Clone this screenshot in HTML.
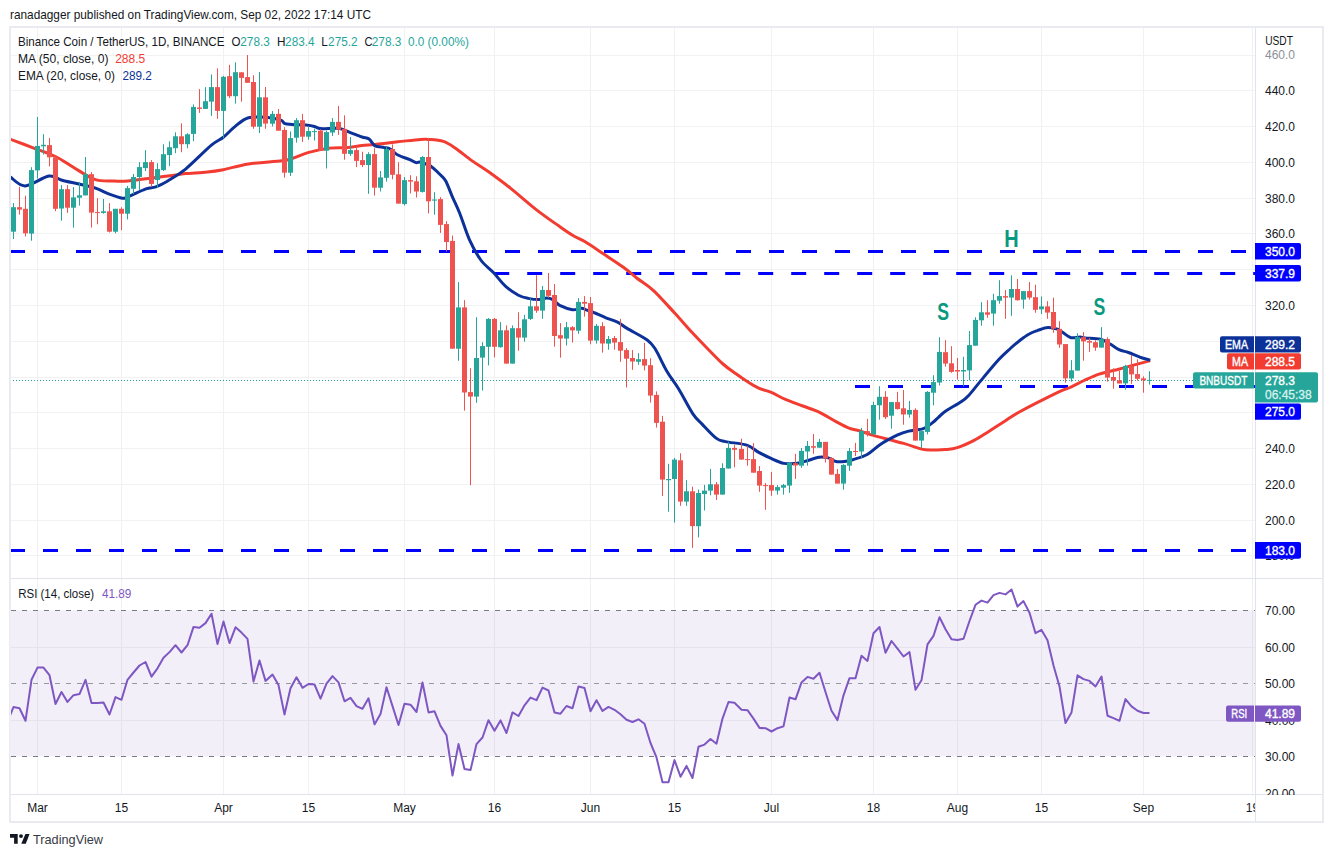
<!DOCTYPE html><html><head><meta charset="utf-8"><style>html,body{margin:0;padding:0;background:#fff;}body{width:1333px;height:857px;position:relative;overflow:hidden;}</style></head><body><svg width="1333" height="857" viewBox="0 0 1333 857" style="position:absolute;left:0;top:0">
<defs><clipPath id="cp"><rect x="11" y="28" width="1244" height="550"/></clipPath><clipPath id="cr"><rect x="11" y="579" width="1244" height="215"/></clipPath></defs>
<rect x="10" y="27" width="1313" height="795" fill="#fff" stroke="#e9ebf0" stroke-width="2"/>
<rect x="10" y="610.3" width="1245" height="146.1" fill="#f2eff9"/>
<line x1="37.5" y1="28" x2="37.5" y2="794" stroke="#2a2e39" stroke-opacity="0.065" stroke-width="1"/>
<line x1="121.5" y1="28" x2="121.5" y2="794" stroke="#2a2e39" stroke-opacity="0.065" stroke-width="1"/>
<line x1="223.5" y1="28" x2="223.5" y2="794" stroke="#2a2e39" stroke-opacity="0.065" stroke-width="1"/>
<line x1="308.5" y1="28" x2="308.5" y2="794" stroke="#2a2e39" stroke-opacity="0.065" stroke-width="1"/>
<line x1="404.5" y1="28" x2="404.5" y2="794" stroke="#2a2e39" stroke-opacity="0.065" stroke-width="1"/>
<line x1="494.5" y1="28" x2="494.5" y2="794" stroke="#2a2e39" stroke-opacity="0.065" stroke-width="1"/>
<line x1="590.5" y1="28" x2="590.5" y2="794" stroke="#2a2e39" stroke-opacity="0.065" stroke-width="1"/>
<line x1="674.5" y1="28" x2="674.5" y2="794" stroke="#2a2e39" stroke-opacity="0.065" stroke-width="1"/>
<line x1="771.5" y1="28" x2="771.5" y2="794" stroke="#2a2e39" stroke-opacity="0.065" stroke-width="1"/>
<line x1="873.5" y1="28" x2="873.5" y2="794" stroke="#2a2e39" stroke-opacity="0.065" stroke-width="1"/>
<line x1="957.5" y1="28" x2="957.5" y2="794" stroke="#2a2e39" stroke-opacity="0.065" stroke-width="1"/>
<line x1="1041.5" y1="28" x2="1041.5" y2="794" stroke="#2a2e39" stroke-opacity="0.065" stroke-width="1"/>
<line x1="1143.5" y1="28" x2="1143.5" y2="794" stroke="#2a2e39" stroke-opacity="0.065" stroke-width="1"/>
<line x1="1252.5" y1="28" x2="1252.5" y2="794" stroke="#2a2e39" stroke-opacity="0.065" stroke-width="1"/>
<line x1="11" y1="555.5" x2="1255" y2="555.5" stroke="#f0f2f3" stroke-width="1"/>
<line x1="11" y1="520.5" x2="1255" y2="520.5" stroke="#f0f2f3" stroke-width="1"/>
<line x1="11" y1="484.5" x2="1255" y2="484.5" stroke="#f0f2f3" stroke-width="1"/>
<line x1="11" y1="448.5" x2="1255" y2="448.5" stroke="#f0f2f3" stroke-width="1"/>
<line x1="11" y1="412.5" x2="1255" y2="412.5" stroke="#f0f2f3" stroke-width="1"/>
<line x1="11" y1="377.5" x2="1255" y2="377.5" stroke="#f0f2f3" stroke-width="1"/>
<line x1="11" y1="341.5" x2="1255" y2="341.5" stroke="#f0f2f3" stroke-width="1"/>
<line x1="11" y1="305.5" x2="1255" y2="305.5" stroke="#f0f2f3" stroke-width="1"/>
<line x1="11" y1="269.5" x2="1255" y2="269.5" stroke="#f0f2f3" stroke-width="1"/>
<line x1="11" y1="233.5" x2="1255" y2="233.5" stroke="#f0f2f3" stroke-width="1"/>
<line x1="11" y1="198.5" x2="1255" y2="198.5" stroke="#f0f2f3" stroke-width="1"/>
<line x1="11" y1="162.5" x2="1255" y2="162.5" stroke="#f0f2f3" stroke-width="1"/>
<line x1="11" y1="126.5" x2="1255" y2="126.5" stroke="#f0f2f3" stroke-width="1"/>
<line x1="11" y1="90.5" x2="1255" y2="90.5" stroke="#f0f2f3" stroke-width="1"/>
<line x1="11" y1="55.5" x2="1255" y2="55.5" stroke="#f0f2f3" stroke-width="1"/>
<line x1="11" y1="647.5" x2="1255" y2="647.5" stroke="#e6e3ef" stroke-width="1"/>
<line x1="11" y1="720.5" x2="1255" y2="720.5" stroke="#e6e3ef" stroke-width="1"/>
<line x1="11" y1="610.5" x2="1255" y2="610.5" stroke="#787b86" stroke-width="1" stroke-dasharray="5 6"/>
<line x1="11" y1="683.5" x2="1255" y2="683.5" stroke="#9598a1" stroke-width="1" stroke-dasharray="5 6"/>
<line x1="11" y1="756.5" x2="1255" y2="756.5" stroke="#787b86" stroke-width="1" stroke-dasharray="5 6"/>
<line x1="1255.5" y1="28" x2="1255.5" y2="821" stroke="#e0e3eb" stroke-width="1"/>
<line x1="11" y1="578.5" x2="1322" y2="578.5" stroke="#e0e3eb" stroke-width="1"/>
<line x1="11" y1="794.5" x2="1322" y2="794.5" stroke="#e0e3eb" stroke-width="1"/>
<g clip-path="url(#cp)">
<line x1="10" y1="380.5" x2="1193" y2="380.5" stroke="#26a69a" stroke-width="1" stroke-dasharray="1 2"/>
<line x1="10" y1="251.5" x2="1254" y2="251.5" stroke="#0000ff" stroke-width="3" stroke-dasharray="15 18"/>
<line x1="494.2" y1="273.5" x2="1255" y2="273.5" stroke="#0000ff" stroke-width="3" stroke-dasharray="15 18"/>
<line x1="855" y1="386.5" x2="1255" y2="386.5" stroke="#0000ff" stroke-width="3" stroke-dasharray="15 18"/>
<line x1="10" y1="550.5" x2="1254" y2="550.5" stroke="#0000ff" stroke-width="3" stroke-dasharray="15 18"/>
<path d="M10.2,139.2 C13.9,140.6 25.0,144.7 32.5,147.6 C40.0,150.5 48.6,153.3 55.4,156.5 C62.2,159.8 66.8,163.4 73.3,167.2 C79.9,171.0 87.8,177.1 94.6,179.4 C101.4,181.7 108.6,180.8 114.2,181.0 C119.7,181.3 119.1,181.8 128.0,181.0 C136.9,180.1 158.1,177.2 167.7,176.0 C177.3,174.8 178.9,174.3 185.6,173.6 C192.2,173.0 201.1,172.7 207.4,172.0 C213.7,171.4 216.4,171.0 223.3,169.7 C230.1,168.3 238.7,165.4 248.5,163.9 C258.4,162.4 274.7,161.8 282.2,160.8 C289.7,159.9 289.0,159.4 293.4,158.0 C297.9,156.6 303.0,154.1 308.8,152.4 C314.7,150.8 321.9,149.1 328.5,148.2 C335.0,147.4 342.5,148.0 348.1,147.5 C353.7,147.1 357.6,146.0 362.1,145.4 C366.6,144.9 369.1,145.0 375.0,144.4 C380.9,143.8 390.2,142.7 397.8,141.8 C405.4,141.0 415.5,139.8 420.5,139.4 C425.6,139.0 424.3,139.1 428.1,139.4 C431.9,139.7 438.7,139.9 443.3,141.4 C447.8,142.8 450.7,145.0 455.4,148.2 C460.2,151.4 466.3,156.7 471.8,160.6 C477.3,164.5 482.1,167.1 488.6,171.8 C495.1,176.5 503.1,182.3 511.0,188.6 C518.9,194.9 528.3,203.4 536.2,209.6 C544.1,215.8 552.5,221.5 558.6,225.8 C564.6,230.1 568.1,232.7 572.6,235.3 C577.0,238.0 580.0,238.7 585.2,241.8 C590.3,244.9 597.1,249.6 603.4,253.8 C609.7,258.0 617.4,262.9 623.0,267.0 C628.6,271.0 631.8,274.2 637.0,278.2 C642.1,282.1 647.4,284.9 653.8,290.8 C660.1,296.7 668.7,306.6 675.1,313.5 C681.4,320.4 686.7,326.7 691.9,332.3 C697.1,337.9 701.0,342.0 706.2,347.2 C711.4,352.5 718.1,359.7 723.0,364.0 C727.9,368.4 731.7,370.7 735.6,373.5 C739.4,376.3 742.2,378.4 746.1,380.8 C749.9,383.3 754.5,386.3 758.7,388.2 C762.9,390.1 766.7,390.5 771.3,392.4 C775.8,394.3 780.7,397.5 786.0,399.7 C791.2,402.0 797.2,403.9 802.8,406.0 C808.4,408.1 814.0,409.7 819.6,412.3 C825.2,415.0 831.5,419.2 836.4,421.8 C841.3,424.4 845.2,426.6 849.0,428.1 C852.8,429.6 855.5,429.6 859.2,430.7 C862.9,431.9 863.9,432.8 871.3,434.9 C878.7,437.0 895.3,441.0 903.6,443.4 C912.0,445.8 916.7,448.0 921.6,449.1 C926.5,450.2 929.1,449.9 933.1,449.9 C937.0,450.0 941.3,450.0 945.4,449.6 C949.4,449.3 952.5,449.3 957.3,447.7 C962.1,446.2 968.9,443.1 974.1,440.4 C979.4,437.7 983.9,434.5 988.8,431.5 C993.7,428.4 998.4,425.2 1003.5,422.0 C1008.6,418.8 1010.1,417.0 1019.3,412.0 C1028.4,407.1 1049.9,396.3 1058.3,392.2 C1066.8,388.1 1065.7,389.5 1070.0,387.5 C1074.3,385.6 1079.2,382.8 1084.0,380.5 C1088.9,378.3 1093.7,375.9 1099.2,374.1 C1104.6,372.3 1111.4,371.1 1116.7,369.8 C1121.9,368.4 1125.1,367.5 1130.7,365.9 C1136.3,364.4 1147.0,361.5 1150.3,360.6" fill="none" stroke="#f23c31" stroke-width="3" stroke-linejoin="round"/>
<path d="M10.4,177.0 C12.9,178.5 18.8,186.1 25.1,185.9 C31.5,185.8 42.7,177.1 48.8,176.1 C55.0,175.2 56.7,178.9 61.9,180.2 C67.1,181.6 74.1,182.9 79.9,184.3 C85.6,185.7 91.3,186.8 96.2,188.4 C101.1,190.0 104.9,192.5 109.3,194.1 C113.6,195.7 119.2,197.7 122.3,198.2 C125.4,198.6 124.1,198.4 128.0,196.8 C131.9,195.3 141.2,190.6 145.9,188.9 C150.5,187.3 152.1,188.2 155.8,186.9 C159.4,185.6 162.7,183.9 167.7,181.0 C172.7,178.0 178.3,175.0 185.6,169.1 C192.8,163.1 205.1,150.5 211.4,145.2 C217.7,139.9 219.3,140.4 223.3,137.3 C227.2,134.2 231.0,129.6 235.2,126.4 C239.4,123.1 243.0,119.2 248.5,117.7 C254.1,116.2 262.8,117.0 268.2,117.4 C273.6,117.8 278.0,119.2 280.8,120.2 C283.6,121.3 283.2,123.0 285.0,123.7 C286.9,124.4 288.5,124.2 292.0,124.4 C295.5,124.7 302.3,124.8 306.0,125.1 C309.8,125.5 312.1,125.9 314.4,126.5 C316.8,127.1 317.7,128.3 320.0,128.6 C322.4,129.0 325.2,128.6 328.5,128.6 C331.7,128.6 335.9,127.9 339.7,128.6 C343.4,129.3 347.1,131.4 350.9,132.8 C354.6,134.2 359.0,136.0 362.1,137.0 C365.1,138.1 366.9,137.6 369.1,139.1 C371.2,140.6 372.5,144.5 375.0,145.9 C377.5,147.3 381.6,146.9 384.1,147.5 C386.6,148.0 387.9,147.7 390.2,149.0 C392.5,150.2 394.5,153.3 397.8,155.0 C401.1,156.8 406.9,158.3 409.9,159.6 C412.9,160.9 414.2,162.2 416.0,162.6 C417.7,163.1 418.0,161.5 420.5,162.2 C423.1,162.8 428.1,164.6 431.2,166.4 C434.2,168.3 436.3,170.9 438.7,173.3 C441.1,175.7 443.3,176.9 445.6,180.8 C447.8,184.8 450.0,191.3 452.4,196.8 C454.8,202.3 457.0,206.6 459.9,213.7 C462.7,220.8 465.9,231.9 469.4,239.6 C472.9,247.3 476.8,254.4 480.8,260.0 C484.9,265.6 489.8,268.7 493.9,273.1 C498.0,277.5 501.3,282.5 505.4,286.2 C509.4,289.9 514.6,293.1 518.4,295.2 C522.2,297.2 524.8,297.7 528.2,298.4 C531.7,299.2 536.0,299.6 539.1,299.6 C542.2,299.5 544.4,298.1 546.7,298.1 C549.0,298.1 550.5,298.3 552.8,299.6 C555.0,300.9 557.1,304.0 560.3,305.7 C563.6,307.3 568.9,309.3 572.5,309.8 C576.0,310.2 579.3,308.2 581.6,308.2 C583.9,308.2 584.1,309.0 586.1,309.8 C588.2,310.5 590.4,311.1 593.7,312.5 C597.0,313.8 601.8,316.1 605.9,317.8 C609.9,319.4 614.5,320.6 618.0,322.3 C621.5,324.1 622.2,325.5 627.1,328.4 C632.0,331.4 642.5,336.5 647.2,340.0 C651.9,343.5 652.0,344.1 655.4,349.3 C658.7,354.6 663.1,364.9 667.0,371.5 C670.9,378.1 674.4,382.0 678.7,389.0 C683.0,396.0 688.8,407.7 692.7,413.6 C696.6,419.4 698.2,420.0 702.1,424.1 C706.0,428.2 712.2,435.2 716.1,438.1 C720.0,441.0 720.3,440.4 725.4,441.6 C730.5,442.8 741.2,443.3 746.7,445.1 C752.2,446.8 754.4,449.9 758.3,452.1 C762.2,454.2 765.7,456.0 770.0,457.9 C774.3,459.8 779.7,462.5 784.0,463.4 C788.3,464.3 792.2,463.7 795.7,463.4 C799.2,463.1 801.1,462.4 805.0,461.4 C808.9,460.4 815.1,457.9 819.0,457.3 C822.9,456.7 825.5,457.2 828.3,457.9 C831.1,458.6 833.2,460.9 835.9,461.5 C838.5,462.1 841.5,461.8 844.3,461.5 C847.1,461.2 848.8,460.8 852.7,459.7 C856.5,458.5 862.6,457.0 867.2,454.5 C871.8,452.0 875.3,447.7 880.3,444.5 C885.2,441.3 892.4,437.5 897.1,435.2 C901.8,433.0 904.2,432.2 908.6,431.1 C912.9,430.1 919.2,430.2 923.3,428.7 C927.4,427.2 930.5,424.1 933.1,422.2 C935.6,420.3 936.3,419.1 938.4,417.3 C940.5,415.4 941.9,413.6 945.8,411.0 C949.6,408.4 957.7,404.2 961.5,401.5 C965.4,398.9 965.7,398.6 968.9,395.2 C972.0,391.8 975.5,387.0 980.5,381.1 C985.5,375.1 993.8,365.1 998.8,359.6 C1003.7,354.2 1006.7,351.8 1010.3,348.5 C1013.9,345.2 1017.2,342.5 1020.4,340.0 C1023.5,337.6 1026.3,335.5 1029.2,334.0 C1032.0,332.4 1034.5,331.6 1037.3,330.6 C1040.1,329.5 1043.6,328.1 1046.0,327.7 C1048.5,327.2 1050.2,327.6 1052.1,327.9 C1054.0,328.2 1055.7,328.5 1057.5,329.2 C1059.3,330.0 1060.7,331.2 1062.9,332.6 C1065.2,334.0 1068.2,337.0 1071.0,337.7 C1073.9,338.4 1077.6,337.0 1080.0,337.0 C1082.4,337.0 1081.8,337.6 1085.2,337.9 C1088.6,338.3 1096.3,338.1 1100.4,339.1 C1104.4,340.1 1106.6,342.0 1109.7,343.8 C1112.8,345.5 1115.9,348.1 1119.0,349.6 C1122.1,351.1 1124.9,351.3 1128.4,352.5 C1131.9,353.8 1136.4,355.9 1140.0,357.2 C1143.7,358.4 1148.6,359.6 1150.3,360.1" fill="none" stroke="#0c3299" stroke-width="3" stroke-linejoin="round"/>
<rect x="13" y="203.1" width="1" height="35.9" fill="#26a69a"/>
<rect x="11" y="207.2" width="5" height="24.5" fill="#26a69a"/>
<rect x="19" y="186.8" width="1" height="27.8" fill="#ef5350"/>
<rect x="17" y="207.2" width="5" height="2.4" fill="#ef5350"/>
<rect x="25" y="195.7" width="1" height="40.8" fill="#ef5350"/>
<rect x="23" y="208.8" width="5" height="24.5" fill="#ef5350"/>
<rect x="31" y="167.2" width="1" height="73.5" fill="#26a69a"/>
<rect x="29" y="170.1" width="5" height="63.5" fill="#26a69a"/>
<rect x="37" y="116.9" width="1" height="61.7" fill="#26a69a"/>
<rect x="35" y="145.9" width="5" height="24.5" fill="#26a69a"/>
<rect x="43" y="134.2" width="1" height="20.3" fill="#26a69a"/>
<rect x="41" y="144.8" width="5" height="1.5" fill="#26a69a"/>
<rect x="49" y="138.1" width="1" height="28.3" fill="#ef5350"/>
<rect x="47" y="145.1" width="5" height="12.2" fill="#ef5350"/>
<rect x="55" y="155.7" width="1" height="55.5" fill="#ef5350"/>
<rect x="53" y="157.4" width="5" height="51.4" fill="#ef5350"/>
<rect x="61" y="185.1" width="1" height="35.6" fill="#26a69a"/>
<rect x="59" y="189.2" width="5" height="19.3" fill="#26a69a"/>
<rect x="67" y="185.1" width="1" height="27.8" fill="#ef5350"/>
<rect x="65" y="189.2" width="5" height="18.5" fill="#ef5350"/>
<rect x="73" y="187.1" width="1" height="40.5" fill="#26a69a"/>
<rect x="71" y="197.4" width="5" height="10.3" fill="#26a69a"/>
<rect x="79" y="181.9" width="1" height="23.7" fill="#26a69a"/>
<rect x="77" y="195.3" width="5" height="2.4" fill="#26a69a"/>
<rect x="85" y="157.0" width="1" height="38.4" fill="#26a69a"/>
<rect x="83" y="174.2" width="5" height="21.2" fill="#26a69a"/>
<rect x="91" y="172.1" width="1" height="55.5" fill="#ef5350"/>
<rect x="89" y="174.2" width="5" height="38.4" fill="#ef5350"/>
<rect x="97" y="198.2" width="1" height="26.1" fill="#ef5350"/>
<rect x="95" y="212.1" width="5" height="1.0" fill="#ef5350"/>
<rect x="103" y="199.0" width="1" height="14.7" fill="#26a69a"/>
<rect x="101" y="211.3" width="5" height="1.6" fill="#26a69a"/>
<rect x="109" y="203.1" width="1" height="29.4" fill="#ef5350"/>
<rect x="107" y="211.3" width="5" height="20.4" fill="#ef5350"/>
<rect x="115" y="208.8" width="1" height="24.5" fill="#26a69a"/>
<rect x="113" y="208.8" width="5" height="22.9" fill="#26a69a"/>
<rect x="121" y="207.2" width="1" height="22.9" fill="#ef5350"/>
<rect x="119" y="208.8" width="5" height="4.9" fill="#ef5350"/>
<rect x="127" y="185.9" width="1" height="33.5" fill="#26a69a"/>
<rect x="125" y="188.1" width="5" height="25.6" fill="#26a69a"/>
<rect x="133" y="174.0" width="1" height="20.1" fill="#26a69a"/>
<rect x="131" y="177.0" width="5" height="11.8" fill="#26a69a"/>
<rect x="139" y="162.1" width="1" height="27.8" fill="#26a69a"/>
<rect x="137" y="167.1" width="5" height="9.9" fill="#26a69a"/>
<rect x="145" y="150.2" width="1" height="20.8" fill="#26a69a"/>
<rect x="143" y="162.1" width="5" height="6.0" fill="#26a69a"/>
<rect x="151" y="160.1" width="1" height="26.8" fill="#ef5350"/>
<rect x="149" y="162.1" width="5" height="21.8" fill="#ef5350"/>
<rect x="157" y="163.1" width="1" height="24.8" fill="#26a69a"/>
<rect x="155" y="169.1" width="5" height="10.9" fill="#26a69a"/>
<rect x="163" y="144.2" width="1" height="26.8" fill="#26a69a"/>
<rect x="161" y="154.2" width="5" height="15.9" fill="#26a69a"/>
<rect x="169" y="141.3" width="1" height="24.8" fill="#26a69a"/>
<rect x="167" y="147.2" width="5" height="7.9" fill="#26a69a"/>
<rect x="175" y="132.3" width="1" height="20.8" fill="#26a69a"/>
<rect x="173" y="136.3" width="5" height="11.9" fill="#26a69a"/>
<rect x="181" y="123.4" width="1" height="28.8" fill="#ef5350"/>
<rect x="179" y="136.3" width="5" height="7.9" fill="#ef5350"/>
<rect x="187" y="133.3" width="1" height="14.9" fill="#26a69a"/>
<rect x="185" y="134.3" width="5" height="9.9" fill="#26a69a"/>
<rect x="193" y="104.5" width="1" height="36.7" fill="#26a69a"/>
<rect x="191" y="106.9" width="5" height="27.0" fill="#26a69a"/>
<rect x="199" y="89.1" width="1" height="23.8" fill="#ef5350"/>
<rect x="197" y="107.5" width="5" height="1.4" fill="#ef5350"/>
<rect x="205" y="87.1" width="1" height="21.8" fill="#26a69a"/>
<rect x="203" y="101.2" width="5" height="7.7" fill="#26a69a"/>
<rect x="211" y="74.4" width="1" height="41.5" fill="#26a69a"/>
<rect x="209" y="87.1" width="5" height="14.5" fill="#26a69a"/>
<rect x="217" y="68.4" width="1" height="50.4" fill="#ef5350"/>
<rect x="215" y="87.1" width="5" height="23.8" fill="#ef5350"/>
<rect x="223" y="75.8" width="1" height="62.5" fill="#26a69a"/>
<rect x="221" y="76.8" width="5" height="34.1" fill="#26a69a"/>
<rect x="229" y="64.8" width="1" height="33.3" fill="#ef5350"/>
<rect x="227" y="76.2" width="5" height="20.0" fill="#ef5350"/>
<rect x="235" y="62.3" width="1" height="41.3" fill="#26a69a"/>
<rect x="233" y="72.2" width="5" height="24.0" fill="#26a69a"/>
<rect x="241" y="72.3" width="1" height="29.4" fill="#ef5350"/>
<rect x="239" y="72.3" width="5" height="5.6" fill="#ef5350"/>
<rect x="247" y="55.0" width="1" height="27.7" fill="#ef5350"/>
<rect x="245" y="77.1" width="5" height="5.7" fill="#ef5350"/>
<rect x="253" y="75.2" width="1" height="53.6" fill="#ef5350"/>
<rect x="251" y="82.0" width="5" height="44.7" fill="#ef5350"/>
<rect x="259" y="72.1" width="1" height="60.9" fill="#26a69a"/>
<rect x="257" y="97.3" width="5" height="29.4" fill="#26a69a"/>
<rect x="265" y="87.0" width="1" height="41.8" fill="#ef5350"/>
<rect x="263" y="97.3" width="5" height="26.3" fill="#ef5350"/>
<rect x="272" y="111.1" width="1" height="15.4" fill="#26a69a"/>
<rect x="270" y="113.9" width="5" height="9.8" fill="#26a69a"/>
<rect x="278" y="109.0" width="1" height="21.7" fill="#ef5350"/>
<rect x="276" y="113.9" width="5" height="16.8" fill="#ef5350"/>
<rect x="284" y="127.2" width="1" height="50.4" fill="#ef5350"/>
<rect x="282" y="130.0" width="5" height="42.7" fill="#ef5350"/>
<rect x="290" y="131.4" width="1" height="44.6" fill="#26a69a"/>
<rect x="288" y="138.1" width="5" height="34.6" fill="#26a69a"/>
<rect x="296" y="118.1" width="1" height="24.5" fill="#26a69a"/>
<rect x="294" y="120.2" width="5" height="17.5" fill="#26a69a"/>
<rect x="302" y="113.9" width="1" height="28.0" fill="#ef5350"/>
<rect x="300" y="120.2" width="5" height="16.5" fill="#ef5350"/>
<rect x="308" y="126.5" width="1" height="13.3" fill="#26a69a"/>
<rect x="306" y="131.1" width="5" height="5.6" fill="#26a69a"/>
<rect x="314" y="128.6" width="1" height="11.9" fill="#26a69a"/>
<rect x="312" y="131.1" width="5" height="1.0" fill="#26a69a"/>
<rect x="320" y="129.3" width="1" height="21.4" fill="#ef5350"/>
<rect x="318" y="130.7" width="5" height="20.0" fill="#ef5350"/>
<rect x="326" y="130.7" width="1" height="37.8" fill="#26a69a"/>
<rect x="324" y="132.1" width="5" height="18.6" fill="#26a69a"/>
<rect x="332" y="118.1" width="1" height="17.8" fill="#26a69a"/>
<rect x="330" y="121.9" width="5" height="10.6" fill="#26a69a"/>
<rect x="338" y="105.9" width="1" height="29.0" fill="#ef5350"/>
<rect x="336" y="121.9" width="5" height="7.8" fill="#ef5350"/>
<rect x="344" y="115.3" width="1" height="44.4" fill="#ef5350"/>
<rect x="342" y="128.9" width="5" height="24.9" fill="#ef5350"/>
<rect x="350" y="137.0" width="1" height="18.9" fill="#26a69a"/>
<rect x="348" y="150.1" width="5" height="3.8" fill="#26a69a"/>
<rect x="356" y="148.2" width="1" height="18.9" fill="#ef5350"/>
<rect x="354" y="150.1" width="5" height="10.8" fill="#ef5350"/>
<rect x="362" y="151.7" width="1" height="15.4" fill="#ef5350"/>
<rect x="360" y="160.1" width="5" height="4.9" fill="#ef5350"/>
<rect x="368" y="152.2" width="1" height="41.6" fill="#26a69a"/>
<rect x="366" y="154.1" width="5" height="10.9" fill="#26a69a"/>
<rect x="374" y="148.2" width="1" height="47.4" fill="#ef5350"/>
<rect x="372" y="154.1" width="5" height="33.6" fill="#ef5350"/>
<rect x="380" y="171.0" width="1" height="20.5" fill="#26a69a"/>
<rect x="378" y="177.4" width="5" height="10.3" fill="#26a69a"/>
<rect x="386" y="146.7" width="1" height="34.9" fill="#26a69a"/>
<rect x="384" y="149.0" width="5" height="28.8" fill="#26a69a"/>
<rect x="392" y="144.4" width="1" height="34.9" fill="#ef5350"/>
<rect x="390" y="149.0" width="5" height="25.8" fill="#ef5350"/>
<rect x="398" y="162.2" width="1" height="41.4" fill="#ef5350"/>
<rect x="396" y="174.3" width="5" height="29.3" fill="#ef5350"/>
<rect x="404" y="177.0" width="1" height="28.5" fill="#26a69a"/>
<rect x="402" y="180.1" width="5" height="24.0" fill="#26a69a"/>
<rect x="410" y="175.2" width="1" height="18.2" fill="#ef5350"/>
<rect x="408" y="180.1" width="5" height="1.5" fill="#ef5350"/>
<rect x="416" y="176.3" width="1" height="21.2" fill="#ef5350"/>
<rect x="414" y="181.3" width="5" height="10.2" fill="#ef5350"/>
<rect x="422" y="156.1" width="1" height="36.4" fill="#26a69a"/>
<rect x="420" y="157.0" width="5" height="34.9" fill="#26a69a"/>
<rect x="428" y="138.3" width="1" height="75.1" fill="#ef5350"/>
<rect x="426" y="157.0" width="5" height="44.3" fill="#ef5350"/>
<rect x="434" y="192.2" width="1" height="22.5" fill="#26a69a"/>
<rect x="432" y="199.5" width="5" height="1.1" fill="#26a69a"/>
<rect x="440" y="197.1" width="1" height="35.8" fill="#ef5350"/>
<rect x="438" y="199.1" width="5" height="25.8" fill="#ef5350"/>
<rect x="446" y="221.1" width="1" height="30.4" fill="#ef5350"/>
<rect x="444" y="224.1" width="5" height="17.9" fill="#ef5350"/>
<rect x="452" y="235.5" width="1" height="113.2" fill="#ef5350"/>
<rect x="450" y="240.9" width="5" height="107.8" fill="#ef5350"/>
<rect x="458" y="282.1" width="1" height="78.7" fill="#26a69a"/>
<rect x="456" y="307.4" width="5" height="41.3" fill="#26a69a"/>
<rect x="464" y="300.1" width="1" height="110.5" fill="#ef5350"/>
<rect x="462" y="307.4" width="5" height="85.1" fill="#ef5350"/>
<rect x="470" y="368.2" width="1" height="117.0" fill="#ef5350"/>
<rect x="468" y="392.1" width="5" height="4.5" fill="#ef5350"/>
<rect x="476" y="317.2" width="1" height="85.6" fill="#26a69a"/>
<rect x="474" y="358.0" width="5" height="38.6" fill="#26a69a"/>
<rect x="482" y="342.2" width="1" height="48.4" fill="#26a69a"/>
<rect x="480" y="346.1" width="5" height="11.5" fill="#26a69a"/>
<rect x="488" y="318.0" width="1" height="47.4" fill="#26a69a"/>
<rect x="486" y="318.9" width="5" height="27.9" fill="#26a69a"/>
<rect x="494" y="318.0" width="1" height="39.3" fill="#ef5350"/>
<rect x="492" y="318.9" width="5" height="27.9" fill="#ef5350"/>
<rect x="500" y="322.1" width="1" height="25.6" fill="#26a69a"/>
<rect x="498" y="330.3" width="5" height="16.9" fill="#26a69a"/>
<rect x="506" y="325.4" width="1" height="38.2" fill="#ef5350"/>
<rect x="504" y="330.3" width="5" height="33.3" fill="#ef5350"/>
<rect x="512" y="325.4" width="1" height="38.2" fill="#26a69a"/>
<rect x="510" y="328.2" width="5" height="35.4" fill="#26a69a"/>
<rect x="518" y="312.3" width="1" height="38.4" fill="#ef5350"/>
<rect x="516" y="328.2" width="5" height="9.4" fill="#ef5350"/>
<rect x="524" y="314.8" width="1" height="26.9" fill="#26a69a"/>
<rect x="522" y="319.3" width="5" height="18.3" fill="#26a69a"/>
<rect x="530" y="298.4" width="1" height="21.6" fill="#26a69a"/>
<rect x="528" y="306.3" width="5" height="12.6" fill="#26a69a"/>
<rect x="536" y="275.2" width="1" height="37.6" fill="#ef5350"/>
<rect x="534" y="306.3" width="5" height="4.4" fill="#ef5350"/>
<rect x="542" y="285.9" width="1" height="32.9" fill="#26a69a"/>
<rect x="540" y="290.0" width="5" height="20.6" fill="#26a69a"/>
<rect x="548" y="273.0" width="1" height="25.0" fill="#ef5350"/>
<rect x="546" y="290.0" width="5" height="5.8" fill="#ef5350"/>
<rect x="554" y="284.0" width="1" height="62.7" fill="#ef5350"/>
<rect x="552" y="295.0" width="5" height="41.0" fill="#ef5350"/>
<rect x="560" y="323.1" width="1" height="34.6" fill="#ef5350"/>
<rect x="558" y="335.2" width="5" height="3.3" fill="#ef5350"/>
<rect x="566" y="321.9" width="1" height="23.7" fill="#26a69a"/>
<rect x="564" y="327.2" width="5" height="11.4" fill="#26a69a"/>
<rect x="572" y="326.1" width="1" height="16.4" fill="#ef5350"/>
<rect x="570" y="327.2" width="5" height="3.2" fill="#ef5350"/>
<rect x="578" y="298.1" width="1" height="35.7" fill="#26a69a"/>
<rect x="576" y="301.9" width="5" height="28.8" fill="#26a69a"/>
<rect x="584" y="296.1" width="1" height="20.6" fill="#ef5350"/>
<rect x="582" y="301.9" width="5" height="1.8" fill="#ef5350"/>
<rect x="590" y="297.0" width="1" height="47.3" fill="#ef5350"/>
<rect x="588" y="303.1" width="5" height="37.5" fill="#ef5350"/>
<rect x="596" y="323.9" width="1" height="19.7" fill="#26a69a"/>
<rect x="594" y="325.8" width="5" height="14.7" fill="#26a69a"/>
<rect x="602" y="322.3" width="1" height="30.3" fill="#ef5350"/>
<rect x="600" y="326.1" width="5" height="17.4" fill="#ef5350"/>
<rect x="608" y="336.0" width="1" height="13.7" fill="#26a69a"/>
<rect x="606" y="339.0" width="5" height="4.6" fill="#26a69a"/>
<rect x="614" y="336.0" width="1" height="13.7" fill="#ef5350"/>
<rect x="612" y="338.0" width="5" height="4.6" fill="#ef5350"/>
<rect x="620" y="318.9" width="1" height="42.9" fill="#ef5350"/>
<rect x="618" y="342.1" width="5" height="8.6" fill="#ef5350"/>
<rect x="626" y="348.1" width="1" height="39.4" fill="#ef5350"/>
<rect x="624" y="350.1" width="5" height="8.6" fill="#ef5350"/>
<rect x="632" y="350.1" width="1" height="19.7" fill="#ef5350"/>
<rect x="630" y="358.0" width="5" height="3.5" fill="#ef5350"/>
<rect x="638" y="353.1" width="1" height="11.7" fill="#26a69a"/>
<rect x="636" y="359.2" width="5" height="2.6" fill="#26a69a"/>
<rect x="644" y="342.8" width="1" height="27.6" fill="#ef5350"/>
<rect x="642" y="359.1" width="5" height="6.5" fill="#ef5350"/>
<rect x="650" y="358.2" width="1" height="44.4" fill="#ef5350"/>
<rect x="648" y="365.2" width="5" height="30.4" fill="#ef5350"/>
<rect x="656" y="391.4" width="1" height="36.2" fill="#ef5350"/>
<rect x="654" y="394.9" width="5" height="28.0" fill="#ef5350"/>
<rect x="662" y="415.9" width="1" height="80.1" fill="#ef5350"/>
<rect x="660" y="421.7" width="5" height="57.9" fill="#ef5350"/>
<rect x="668" y="463.8" width="1" height="47.9" fill="#26a69a"/>
<rect x="666" y="479.0" width="5" height="1.2" fill="#26a69a"/>
<rect x="674" y="457.9" width="1" height="64.7" fill="#26a69a"/>
<rect x="672" y="459.6" width="5" height="19.4" fill="#26a69a"/>
<rect x="680" y="453.3" width="1" height="52.5" fill="#ef5350"/>
<rect x="678" y="460.3" width="5" height="41.3" fill="#ef5350"/>
<rect x="686" y="480.1" width="1" height="25.7" fill="#26a69a"/>
<rect x="684" y="491.3" width="5" height="10.3" fill="#26a69a"/>
<rect x="692" y="486.7" width="1" height="61.2" fill="#ef5350"/>
<rect x="690" y="491.3" width="5" height="34.8" fill="#ef5350"/>
<rect x="698" y="489.5" width="1" height="47.9" fill="#26a69a"/>
<rect x="696" y="493.0" width="5" height="33.2" fill="#26a69a"/>
<rect x="704" y="484.8" width="1" height="25.7" fill="#26a69a"/>
<rect x="702" y="490.6" width="5" height="3.5" fill="#26a69a"/>
<rect x="710" y="468.9" width="1" height="26.4" fill="#26a69a"/>
<rect x="708" y="484.3" width="5" height="6.3" fill="#26a69a"/>
<rect x="716" y="482.0" width="1" height="18.0" fill="#ef5350"/>
<rect x="714" y="484.3" width="5" height="10.3" fill="#ef5350"/>
<rect x="722" y="463.3" width="1" height="31.3" fill="#26a69a"/>
<rect x="720" y="468.0" width="5" height="26.6" fill="#26a69a"/>
<rect x="728" y="441.6" width="1" height="26.9" fill="#26a69a"/>
<rect x="726" y="447.9" width="5" height="20.6" fill="#26a69a"/>
<rect x="734" y="445.1" width="1" height="22.2" fill="#ef5350"/>
<rect x="732" y="447.9" width="5" height="1.9" fill="#ef5350"/>
<rect x="741" y="438.7" width="1" height="21.0" fill="#ef5350"/>
<rect x="739" y="448.9" width="5" height="10.7" fill="#ef5350"/>
<rect x="747" y="445.9" width="1" height="19.8" fill="#ef5350"/>
<rect x="745" y="459.1" width="5" height="1.0" fill="#ef5350"/>
<rect x="753" y="443.1" width="1" height="29.6" fill="#ef5350"/>
<rect x="751" y="459.1" width="5" height="13.6" fill="#ef5350"/>
<rect x="759" y="466.1" width="1" height="25.7" fill="#ef5350"/>
<rect x="757" y="471.0" width="5" height="14.6" fill="#ef5350"/>
<rect x="765" y="483.0" width="1" height="26.8" fill="#ef5350"/>
<rect x="763" y="485.1" width="5" height="1.0" fill="#ef5350"/>
<rect x="771" y="471.9" width="1" height="23.9" fill="#ef5350"/>
<rect x="769" y="485.1" width="5" height="5.5" fill="#ef5350"/>
<rect x="777" y="485.1" width="1" height="9.6" fill="#26a69a"/>
<rect x="775" y="487.1" width="5" height="3.5" fill="#26a69a"/>
<rect x="783" y="483.9" width="1" height="10.7" fill="#26a69a"/>
<rect x="781" y="485.1" width="5" height="2.6" fill="#26a69a"/>
<rect x="789" y="462.0" width="1" height="30.9" fill="#26a69a"/>
<rect x="787" y="462.9" width="5" height="22.7" fill="#26a69a"/>
<rect x="795" y="453.8" width="1" height="25.1" fill="#ef5350"/>
<rect x="793" y="463.2" width="5" height="2.3" fill="#ef5350"/>
<rect x="801" y="448.0" width="1" height="19.8" fill="#26a69a"/>
<rect x="799" y="450.9" width="5" height="14.8" fill="#26a69a"/>
<rect x="807" y="441.0" width="1" height="24.7" fill="#26a69a"/>
<rect x="805" y="445.9" width="5" height="5.6" fill="#26a69a"/>
<rect x="813" y="434.0" width="1" height="19.8" fill="#ef5350"/>
<rect x="811" y="446.2" width="5" height="1.5" fill="#ef5350"/>
<rect x="819" y="438.9" width="1" height="8.9" fill="#26a69a"/>
<rect x="817" y="441.9" width="5" height="5.8" fill="#26a69a"/>
<rect x="825" y="441.9" width="1" height="20.6" fill="#ef5350"/>
<rect x="823" y="441.9" width="5" height="16.6" fill="#ef5350"/>
<rect x="831" y="457.1" width="1" height="17.5" fill="#ef5350"/>
<rect x="829" y="457.9" width="5" height="16.7" fill="#ef5350"/>
<rect x="837" y="469.0" width="1" height="14.6" fill="#ef5350"/>
<rect x="835" y="473.9" width="5" height="9.7" fill="#ef5350"/>
<rect x="843" y="464.3" width="1" height="25.4" fill="#26a69a"/>
<rect x="841" y="464.9" width="5" height="18.7" fill="#26a69a"/>
<rect x="849" y="448.0" width="1" height="22.9" fill="#26a69a"/>
<rect x="847" y="451.0" width="5" height="14.7" fill="#26a69a"/>
<rect x="855" y="442.9" width="1" height="13.1" fill="#ef5350"/>
<rect x="853" y="451.0" width="5" height="1.0" fill="#ef5350"/>
<rect x="861" y="427.9" width="1" height="30.2" fill="#26a69a"/>
<rect x="859" y="431.1" width="5" height="20.4" fill="#26a69a"/>
<rect x="867" y="418.9" width="1" height="17.5" fill="#ef5350"/>
<rect x="865" y="431.1" width="5" height="2.5" fill="#ef5350"/>
<rect x="873" y="401.7" width="1" height="32.7" fill="#26a69a"/>
<rect x="871" y="405.0" width="5" height="29.4" fill="#26a69a"/>
<rect x="879" y="386.2" width="1" height="33.5" fill="#26a69a"/>
<rect x="877" y="396.8" width="5" height="8.5" fill="#26a69a"/>
<rect x="885" y="391.1" width="1" height="27.8" fill="#ef5350"/>
<rect x="883" y="396.8" width="5" height="20.4" fill="#ef5350"/>
<rect x="891" y="402.1" width="1" height="26.6" fill="#26a69a"/>
<rect x="889" y="402.1" width="5" height="13.6" fill="#26a69a"/>
<rect x="897" y="391.9" width="1" height="17.7" fill="#ef5350"/>
<rect x="895" y="402.1" width="5" height="7.0" fill="#ef5350"/>
<rect x="903" y="390.0" width="1" height="34.7" fill="#ef5350"/>
<rect x="901" y="408.3" width="5" height="6.2" fill="#ef5350"/>
<rect x="909" y="400.9" width="1" height="16.8" fill="#26a69a"/>
<rect x="907" y="409.9" width="5" height="4.6" fill="#26a69a"/>
<rect x="915" y="408.3" width="1" height="32.4" fill="#ef5350"/>
<rect x="913" y="409.9" width="5" height="30.7" fill="#ef5350"/>
<rect x="921" y="431.1" width="1" height="17.2" fill="#26a69a"/>
<rect x="919" y="431.1" width="5" height="9.5" fill="#26a69a"/>
<rect x="927" y="391.1" width="1" height="43.3" fill="#26a69a"/>
<rect x="925" y="391.9" width="5" height="40.0" fill="#26a69a"/>
<rect x="933" y="375.2" width="1" height="30.1" fill="#26a69a"/>
<rect x="931" y="382.1" width="5" height="10.6" fill="#26a69a"/>
<rect x="939" y="337.2" width="1" height="48.2" fill="#26a69a"/>
<rect x="937" y="351.9" width="5" height="30.6" fill="#26a69a"/>
<rect x="945" y="340.1" width="1" height="26.6" fill="#ef5350"/>
<rect x="943" y="352.2" width="5" height="11.4" fill="#ef5350"/>
<rect x="951" y="346.2" width="1" height="26.6" fill="#ef5350"/>
<rect x="949" y="363.3" width="5" height="8.6" fill="#ef5350"/>
<rect x="957" y="357.9" width="1" height="21.7" fill="#ef5350"/>
<rect x="955" y="370.0" width="5" height="1.5" fill="#ef5350"/>
<rect x="963" y="356.8" width="1" height="29.6" fill="#26a69a"/>
<rect x="961" y="370.0" width="5" height="1.5" fill="#26a69a"/>
<rect x="969" y="331.0" width="1" height="49.3" fill="#26a69a"/>
<rect x="967" y="345.1" width="5" height="25.3" fill="#26a69a"/>
<rect x="975" y="317.3" width="1" height="28.4" fill="#26a69a"/>
<rect x="973" y="319.9" width="5" height="25.8" fill="#26a69a"/>
<rect x="981" y="302.2" width="1" height="23.5" fill="#26a69a"/>
<rect x="979" y="312.3" width="5" height="8.0" fill="#26a69a"/>
<rect x="987" y="300.2" width="1" height="17.6" fill="#ef5350"/>
<rect x="985" y="312.3" width="5" height="2.4" fill="#ef5350"/>
<rect x="993" y="293.8" width="1" height="31.9" fill="#26a69a"/>
<rect x="991" y="300.2" width="5" height="13.4" fill="#26a69a"/>
<rect x="999" y="280.2" width="1" height="23.5" fill="#26a69a"/>
<rect x="997" y="296.1" width="5" height="4.6" fill="#26a69a"/>
<rect x="1005" y="290.0" width="1" height="28.8" fill="#ef5350"/>
<rect x="1003" y="296.1" width="5" height="1.5" fill="#ef5350"/>
<rect x="1011" y="275.3" width="1" height="40.5" fill="#26a69a"/>
<rect x="1009" y="289.0" width="5" height="8.6" fill="#26a69a"/>
<rect x="1017" y="279.0" width="1" height="21.7" fill="#ef5350"/>
<rect x="1015" y="289.0" width="5" height="11.2" fill="#ef5350"/>
<rect x="1023" y="291.1" width="1" height="17.6" fill="#26a69a"/>
<rect x="1021" y="291.1" width="5" height="8.5" fill="#26a69a"/>
<rect x="1029" y="282.0" width="1" height="17.6" fill="#ef5350"/>
<rect x="1027" y="291.1" width="5" height="6.5" fill="#ef5350"/>
<rect x="1035" y="284.7" width="1" height="28.1" fill="#ef5350"/>
<rect x="1033" y="297.2" width="5" height="12.6" fill="#ef5350"/>
<rect x="1041" y="296.5" width="1" height="17.5" fill="#26a69a"/>
<rect x="1039" y="306.4" width="5" height="2.9" fill="#26a69a"/>
<rect x="1047" y="301.2" width="1" height="17.5" fill="#ef5350"/>
<rect x="1045" y="306.4" width="5" height="6.2" fill="#ef5350"/>
<rect x="1053" y="297.7" width="1" height="35.0" fill="#ef5350"/>
<rect x="1051" y="312.0" width="5" height="16.6" fill="#ef5350"/>
<rect x="1059" y="321.2" width="1" height="26.6" fill="#ef5350"/>
<rect x="1057" y="328.9" width="5" height="15.6" fill="#ef5350"/>
<rect x="1065" y="344.1" width="1" height="38.5" fill="#ef5350"/>
<rect x="1063" y="344.1" width="5" height="34.3" fill="#ef5350"/>
<rect x="1071" y="360.1" width="1" height="21.6" fill="#26a69a"/>
<rect x="1069" y="370.3" width="5" height="8.2" fill="#26a69a"/>
<rect x="1077" y="333.3" width="1" height="37.3" fill="#26a69a"/>
<rect x="1075" y="337.1" width="5" height="33.5" fill="#26a69a"/>
<rect x="1083" y="332.1" width="1" height="28.6" fill="#ef5350"/>
<rect x="1081" y="337.1" width="5" height="4.3" fill="#ef5350"/>
<rect x="1089" y="337.9" width="1" height="14.0" fill="#ef5350"/>
<rect x="1087" y="341.1" width="5" height="1.5" fill="#ef5350"/>
<rect x="1095" y="340.3" width="1" height="10.5" fill="#ef5350"/>
<rect x="1093" y="342.2" width="5" height="5.4" fill="#ef5350"/>
<rect x="1101" y="327.1" width="1" height="20.5" fill="#26a69a"/>
<rect x="1099" y="339.1" width="5" height="8.5" fill="#26a69a"/>
<rect x="1107" y="337.3" width="1" height="44.3" fill="#ef5350"/>
<rect x="1105" y="339.1" width="5" height="38.5" fill="#ef5350"/>
<rect x="1113" y="368.3" width="1" height="20.4" fill="#ef5350"/>
<rect x="1111" y="377.0" width="5" height="3.5" fill="#ef5350"/>
<rect x="1119" y="370.6" width="1" height="12.8" fill="#ef5350"/>
<rect x="1117" y="380.3" width="5" height="3.2" fill="#ef5350"/>
<rect x="1125" y="364.8" width="1" height="24.9" fill="#26a69a"/>
<rect x="1123" y="365.9" width="5" height="17.5" fill="#26a69a"/>
<rect x="1131" y="355.1" width="1" height="28.7" fill="#ef5350"/>
<rect x="1129" y="365.9" width="5" height="8.5" fill="#ef5350"/>
<rect x="1137" y="359.3" width="1" height="21.2" fill="#ef5350"/>
<rect x="1135" y="374.1" width="5" height="4.7" fill="#ef5350"/>
<rect x="1143" y="376.4" width="1" height="16.3" fill="#ef5350"/>
<rect x="1141" y="378.4" width="5" height="1.9" fill="#ef5350"/>
<rect x="1149" y="371.2" width="1" height="13.4" fill="#26a69a"/>
<rect x="1147" y="379.9" width="5" height="1.0" fill="#26a69a"/>
<text x="937.3" y="320" font-family='"Liberation Sans", sans-serif' font-size="23" font-weight="bold" fill="#089981" textLength="11.8" lengthAdjust="spacingAndGlyphs">S</text>
<text x="1004.2" y="247" font-family='"Liberation Sans", sans-serif' font-size="23" font-weight="bold" fill="#089981" textLength="14.4" lengthAdjust="spacingAndGlyphs">H</text>
<text x="1093.4" y="315" font-family='"Liberation Sans", sans-serif' font-size="23" font-weight="bold" fill="#089981" textLength="11.8" lengthAdjust="spacingAndGlyphs">S</text>
</g>
<g clip-path="url(#cr)">
<path d="M10.0,715.5 L13.5,707.1 L19.5,708.2 L25.5,720.8 L31.5,679.8 L37.5,667.6 L43.5,667.6 L49.5,675.2 L55.5,704.0 L61.5,692.0 L67.5,701.9 L73.5,695.2 L79.5,694.1 L85.5,679.8 L91.5,702.9 L97.5,702.9 L103.5,702.5 L109.5,714.5 L115.5,697.1 L121.5,699.8 L127.5,679.8 L133.5,672.5 L139.5,665.5 L145.5,662.0 L151.5,676.7 L157.5,668.3 L163.5,657.8 L169.5,652.1 L175.5,645.2 L181.5,652.5 L187.5,645.2 L193.5,626.9 L199.5,627.7 L205.5,623.1 L211.5,613.7 L217.5,644.1 L223.5,621.4 L229.5,643.1 L235.5,627.3 L241.5,632.6 L247.5,638.9 L253.5,681.5 L259.5,660.5 L265.5,680.9 L272.5,674.6 L278.5,685.1 L284.5,714.5 L290.5,688.2 L296.5,677.3 L302.5,687.8 L308.5,684.0 L314.5,684.5 L320.5,698.7 L326.5,683.6 L332.5,676.1 L338.5,682.4 L344.5,701.3 L350.5,697.9 L356.5,706.1 L362.5,708.8 L368.5,698.3 L374.5,724.4 L380.5,714.1 L386.5,687.2 L392.5,706.1 L398.5,725.0 L404.5,703.8 L410.5,704.7 L416.5,712.0 L422.5,682.5 L428.5,712.4 L434.5,711.3 L440.5,725.9 L446.5,735.3 L452.5,775.6 L458.5,744.1 L464.5,769.0 L470.5,770.1 L476.5,744.1 L482.5,737.5 L488.5,720.2 L494.5,730.8 L500.5,720.4 L506.5,733.0 L512.5,712.4 L518.5,716.0 L524.5,705.3 L530.5,697.6 L536.5,700.2 L542.5,687.6 L548.5,690.5 L554.5,712.6 L560.5,713.7 L566.5,706.0 L572.5,708.2 L578.5,686.5 L584.5,688.0 L590.5,711.3 L596.5,700.2 L602.5,710.9 L608.5,706.9 L614.5,709.8 L620.5,714.2 L626.5,719.7 L632.5,722.0 L638.5,719.3 L644.5,723.7 L650.5,743.0 L656.5,757.4 L662.5,782.3 L668.5,782.3 L674.5,760.1 L680.5,776.7 L686.5,765.9 L692.5,778.0 L698.5,746.8 L704.5,744.6 L710.5,739.0 L716.5,743.7 L722.5,718.6 L728.5,702.0 L734.5,702.7 L741.5,709.8 L747.5,710.2 L753.5,718.6 L759.5,727.9 L765.5,728.2 L771.5,731.5 L777.5,728.2 L783.5,726.4 L789.5,697.5 L795.5,699.3 L801.5,682.4 L807.5,676.9 L813.5,678.7 L819.5,672.7 L825.5,692.0 L831.5,710.8 L837.5,720.1 L843.5,695.3 L849.5,678.2 L855.5,678.2 L861.5,655.8 L867.5,660.9 L873.5,633.2 L879.5,627.0 L885.5,652.7 L891.5,641.0 L897.5,648.7 L903.5,656.5 L909.5,652.1 L915.5,689.8 L921.5,680.2 L927.5,644.3 L933.5,635.9 L939.5,617.3 L945.5,629.2 L951.5,639.2 L957.5,639.9 L963.5,638.8 L969.5,621.0 L975.5,604.8 L981.5,600.6 L987.5,602.6 L993.5,595.1 L999.5,592.9 L1005.5,594.4 L1011.5,589.5 L1017.5,606.6 L1023.5,601.1 L1029.5,612.8 L1035.5,633.2 L1041.5,629.9 L1047.5,640.3 L1053.5,665.4 L1059.5,686.4 L1065.5,723.0 L1071.5,712.4 L1077.5,675.3 L1083.5,679.1 L1089.5,680.9 L1095.5,686.4 L1101.5,676.5 L1107.5,715.7 L1113.5,718.1 L1119.5,720.8 L1125.5,699.1 L1131.5,706.4 L1137.5,710.8 L1143.5,713.0 L1149.5,713.0" fill="none" stroke="#7e57c2" stroke-width="2" stroke-linejoin="round"/>
</g>
<text x="1265.2" y="45" font-family='"Liberation Sans", sans-serif' font-size="12" fill="#131722" textLength="27.8" lengthAdjust="spacingAndGlyphs">USDT</text>
<text x="1265" y="59" font-family='"Liberation Sans", sans-serif' font-size="12" fill="#8c8f99" text-anchor="start" font-weight="normal" >460.0</text>
<text x="1265" y="94.5" font-family='"Liberation Sans", sans-serif' font-size="12" fill="#131722" text-anchor="start" font-weight="normal" >440.0</text>
<text x="1265" y="130.5" font-family='"Liberation Sans", sans-serif' font-size="12" fill="#131722" text-anchor="start" font-weight="normal" >420.0</text>
<text x="1265" y="166.5" font-family='"Liberation Sans", sans-serif' font-size="12" fill="#131722" text-anchor="start" font-weight="normal" >400.0</text>
<text x="1265" y="202.5" font-family='"Liberation Sans", sans-serif' font-size="12" fill="#131722" text-anchor="start" font-weight="normal" >380.0</text>
<text x="1265" y="237.5" font-family='"Liberation Sans", sans-serif' font-size="12" fill="#131722" text-anchor="start" font-weight="normal" >360.0</text>
<text x="1265" y="309.5" font-family='"Liberation Sans", sans-serif' font-size="12" fill="#131722" text-anchor="start" font-weight="normal" >320.0</text>
<text x="1265" y="452.5" font-family='"Liberation Sans", sans-serif' font-size="12" fill="#131722" text-anchor="start" font-weight="normal" >240.0</text>
<text x="1265" y="488.5" font-family='"Liberation Sans", sans-serif' font-size="12" fill="#131722" text-anchor="start" font-weight="normal" >220.0</text>
<text x="1265" y="524.5" font-family='"Liberation Sans", sans-serif' font-size="12" fill="#131722" text-anchor="start" font-weight="normal" >200.0</text>
<text x="1265" y="559.5" font-family='"Liberation Sans", sans-serif' font-size="12" fill="#131722" text-anchor="start" font-weight="normal" >180.0</text>
<text x="1265" y="614.5" font-family='"Liberation Sans", sans-serif' font-size="12" fill="#131722" text-anchor="start" font-weight="normal" >70.00</text>
<text x="1265" y="651.5" font-family='"Liberation Sans", sans-serif' font-size="12" fill="#131722" text-anchor="start" font-weight="normal" >60.00</text>
<text x="1265" y="687.5" font-family='"Liberation Sans", sans-serif' font-size="12" fill="#131722" text-anchor="start" font-weight="normal" >50.00</text>
<text x="1265" y="724.5" font-family='"Liberation Sans", sans-serif' font-size="12" fill="#131722" text-anchor="start" font-weight="normal" >40.00</text>
<text x="1265" y="760.5" font-family='"Liberation Sans", sans-serif' font-size="12" fill="#131722" text-anchor="start" font-weight="normal" >30.00</text>
<text x="1265" y="797.5" font-family='"Liberation Sans", sans-serif' font-size="12" fill="#131722" text-anchor="start" font-weight="normal" >20.00</text>
<path d="M1255,243 H1299 Q1301,243 1301,245 V257.5 Q1301,259.5 1299,259.5 H1255 Z" fill="#0000ff"/>
<text x="1265" y="255.5" font-family='"Liberation Sans", sans-serif' font-size="12" fill="#fff" text-anchor="start" font-weight="normal" stroke="#fff" stroke-width="0.35">350.0</text>
<path d="M1255,265 H1299 Q1301,265 1301,267 V279.6 Q1301,281.6 1299,281.6 H1255 Z" fill="#0000ff"/>
<text x="1265" y="277.5" font-family='"Liberation Sans", sans-serif' font-size="12" fill="#fff" text-anchor="start" font-weight="normal" stroke="#fff" stroke-width="0.35">337.9</text>
<path d="M1254,336.2 H1222 Q1220,336.2 1220,338.2 V350.5 Q1220,352.5 1222,352.5 H1254 Z" fill="#0c3299"/>
<text x="1225" y="348.5" font-family='"Liberation Sans", sans-serif' font-size="12" fill="#fff" stroke="#fff" stroke-width="0.35" textLength="23" lengthAdjust="spacingAndGlyphs">EMA</text>
<path d="M1255,336.2 H1299 Q1301,336.2 1301,338.2 V350.5 Q1301,352.5 1299,352.5 H1255 Z" fill="#0c3299"/>
<text x="1265" y="348.5" font-family='"Liberation Sans", sans-serif' font-size="12" fill="#fff" text-anchor="start" font-weight="normal" stroke="#fff" stroke-width="0.35">289.2</text>
<path d="M1254,353.3 H1229 Q1227,353.3 1227,355.3 V367.5 Q1227,369.5 1229,369.5 H1254 Z" fill="#f23c31"/>
<text x="1232" y="365.5" font-family='"Liberation Sans", sans-serif' font-size="12" fill="#fff" stroke="#fff" stroke-width="0.35" textLength="16" lengthAdjust="spacingAndGlyphs">MA</text>
<path d="M1255,353.3 H1299 Q1301,353.3 1301,355.3 V367.5 Q1301,369.5 1299,369.5 H1255 Z" fill="#f23c31"/>
<text x="1265" y="365.5" font-family='"Liberation Sans", sans-serif' font-size="12" fill="#fff" text-anchor="start" font-weight="normal" stroke="#fff" stroke-width="0.35">288.5</text>
<path d="M1254,372.3 H1195 Q1193,372.3 1193,374.3 V386.4 Q1193,388.4 1195,388.4 H1254 Z" fill="#26a69a"/>
<text x="1199.4" y="384.5" font-family='"Liberation Sans", sans-serif' font-size="12" fill="#fff" stroke="#fff" stroke-width="0.35" textLength="48" lengthAdjust="spacingAndGlyphs">BNBUSDT</text>
<path d="M1255,372.3 H1316 Q1318,372.3 1318,374.3 V400.4 Q1318,402.4 1316,402.4 H1255 Z" fill="#26a69a"/>
<text x="1265" y="384.5" font-family='"Liberation Sans", sans-serif' font-size="12" fill="#fff" text-anchor="start" font-weight="normal" stroke="#fff" stroke-width="0.35">278.3</text>
<text x="1265" y="398.5" font-family='"Liberation Sans", sans-serif' font-size="12" fill="#d8f0ee" text-anchor="start" font-weight="normal" stroke="#d8f0ee" stroke-width="0.3">06:45:38</text>
<path d="M1255,403.5 H1299 Q1301,403.5 1301,405.5 V417.8 Q1301,419.8 1299,419.8 H1255 Z" fill="#0000ff"/>
<text x="1265" y="415.8" font-family='"Liberation Sans", sans-serif' font-size="12" fill="#fff" text-anchor="start" font-weight="normal" stroke="#fff" stroke-width="0.35">275.0</text>
<path d="M1255,542 H1299 Q1301,542 1301,544 V556.7 Q1301,558.7 1299,558.7 H1255 Z" fill="#0000ff"/>
<text x="1265" y="554.5" font-family='"Liberation Sans", sans-serif' font-size="12" fill="#fff" text-anchor="start" font-weight="normal" stroke="#fff" stroke-width="0.35">183.0</text>
<path d="M1254,705.5 H1228 Q1226,705.5 1226,707.5 V719.7 Q1226,721.7 1228,721.7 H1254 Z" fill="#7e57c2"/>
<text x="1231.3" y="717.5" font-family='"Liberation Sans", sans-serif' font-size="12" fill="#fff" stroke="#fff" stroke-width="0.35" textLength="16" lengthAdjust="spacingAndGlyphs">RSI</text>
<path d="M1255,705.5 H1299 Q1301,705.5 1301,707.5 V719.7 Q1301,721.7 1299,721.7 H1255 Z" fill="#7e57c2"/>
<text x="1265" y="717.5" font-family='"Liberation Sans", sans-serif' font-size="12" fill="#fff" text-anchor="start" font-weight="normal" stroke="#fff" stroke-width="0.35">41.89</text>
<text x="37.5" y="812" font-family='"Liberation Sans", sans-serif' font-size="12" fill="#131722" text-anchor="middle" font-weight="normal" >Mar</text>
<text x="121.5" y="812" font-family='"Liberation Sans", sans-serif' font-size="12" fill="#131722" text-anchor="middle" font-weight="normal" >15</text>
<text x="223.5" y="812" font-family='"Liberation Sans", sans-serif' font-size="12" fill="#131722" text-anchor="middle" font-weight="normal" >Apr</text>
<text x="308.5" y="812" font-family='"Liberation Sans", sans-serif' font-size="12" fill="#131722" text-anchor="middle" font-weight="normal" >15</text>
<text x="404.5" y="812" font-family='"Liberation Sans", sans-serif' font-size="12" fill="#131722" text-anchor="middle" font-weight="normal" >May</text>
<text x="494.5" y="812" font-family='"Liberation Sans", sans-serif' font-size="12" fill="#131722" text-anchor="middle" font-weight="normal" >16</text>
<text x="590.5" y="812" font-family='"Liberation Sans", sans-serif' font-size="12" fill="#131722" text-anchor="middle" font-weight="normal" >Jun</text>
<text x="674.5" y="812" font-family='"Liberation Sans", sans-serif' font-size="12" fill="#131722" text-anchor="middle" font-weight="normal" >15</text>
<text x="771.5" y="812" font-family='"Liberation Sans", sans-serif' font-size="12" fill="#131722" text-anchor="middle" font-weight="normal" >Jul</text>
<text x="873.5" y="812" font-family='"Liberation Sans", sans-serif' font-size="12" fill="#131722" text-anchor="middle" font-weight="normal" >18</text>
<text x="957.5" y="812" font-family='"Liberation Sans", sans-serif' font-size="12" fill="#131722" text-anchor="middle" font-weight="normal" >Aug</text>
<text x="1041.5" y="812" font-family='"Liberation Sans", sans-serif' font-size="12" fill="#131722" text-anchor="middle" font-weight="normal" >15</text>
<text x="1143.5" y="812" font-family='"Liberation Sans", sans-serif' font-size="12" fill="#131722" text-anchor="middle" font-weight="normal" >Sep</text>
<text x="1252.5" y="812" font-family='"Liberation Sans", sans-serif' font-size="12" fill="#131722" text-anchor="middle" font-weight="normal" >19</text>
<rect x="1255" y="795" width="67" height="26" fill="#fff"/>
<line x1="1255.5" y1="794" x2="1255.5" y2="821" stroke="#e0e3eb" stroke-width="1"/>
<text x="10" y="18.8" font-family='"Liberation Sans", sans-serif' font-size="13" fill="#131722" text-anchor="start" textLength="361" lengthAdjust="spacingAndGlyphs">ranadagger published on TradingView.com, Sep 02, 2022 17:14 UTC</text>
<text x="18" y="46" font-family='"Liberation Sans", sans-serif' font-size="13" fill="#131722" text-anchor="start" textLength="206.5" lengthAdjust="spacingAndGlyphs">Binance Coin / TetherUS, 1D, BINANCE</text>
<text x="231.5" y="46" font-family='"Liberation Sans", sans-serif' font-size="13" fill="#131722" text-anchor="start" textLength="9" lengthAdjust="spacingAndGlyphs">O</text>
<text x="240.3" y="46" font-family='"Liberation Sans", sans-serif' font-size="13" fill="#26a69a" text-anchor="start" textLength="29.5" lengthAdjust="spacingAndGlyphs">278.3</text>
<text x="277" y="46" font-family='"Liberation Sans", sans-serif' font-size="13" fill="#131722" text-anchor="start" textLength="8.5" lengthAdjust="spacingAndGlyphs">H</text>
<text x="285.1" y="46" font-family='"Liberation Sans", sans-serif' font-size="13" fill="#26a69a" text-anchor="start" textLength="29.5" lengthAdjust="spacingAndGlyphs">283.4</text>
<text x="321.3" y="46" font-family='"Liberation Sans", sans-serif' font-size="13" fill="#131722" text-anchor="start" textLength="6.5" lengthAdjust="spacingAndGlyphs">L</text>
<text x="328.1" y="46" font-family='"Liberation Sans", sans-serif' font-size="13" fill="#26a69a" text-anchor="start" textLength="29.5" lengthAdjust="spacingAndGlyphs">275.2</text>
<text x="364.5" y="46" font-family='"Liberation Sans", sans-serif' font-size="13" fill="#131722" text-anchor="start" textLength="8" lengthAdjust="spacingAndGlyphs">C</text>
<text x="371.8" y="46" font-family='"Liberation Sans", sans-serif' font-size="13" fill="#26a69a" text-anchor="start" textLength="29.5" lengthAdjust="spacingAndGlyphs">278.3</text>
<text x="407.9" y="46" font-family='"Liberation Sans", sans-serif' font-size="13" fill="#26a69a" text-anchor="start" textLength="61" lengthAdjust="spacingAndGlyphs">0.0 (0.00%)</text>
<text x="18" y="63" font-family='"Liberation Sans", sans-serif' font-size="13" fill="#131722" text-anchor="start" textLength="90.5" lengthAdjust="spacingAndGlyphs">MA (50, close, 0)</text>
<text x="115.2" y="63" font-family='"Liberation Sans", sans-serif' font-size="13" fill="#f23c31" text-anchor="start" textLength="30" lengthAdjust="spacingAndGlyphs">288.5</text>
<text x="18" y="80" font-family='"Liberation Sans", sans-serif' font-size="13" fill="#131722" text-anchor="start" textLength="97" lengthAdjust="spacingAndGlyphs">EMA (20, close, 0)</text>
<text x="122.4" y="80" font-family='"Liberation Sans", sans-serif' font-size="13" fill="#0c3299" text-anchor="start" textLength="29.5" lengthAdjust="spacingAndGlyphs">289.2</text>
<text x="18.2" y="598" font-family='"Liberation Sans", sans-serif' font-size="13" fill="#131722" text-anchor="start" textLength="76" lengthAdjust="spacingAndGlyphs">RSI (14, close)</text>
<text x="101.9" y="598" font-family='"Liberation Sans", sans-serif' font-size="13" fill="#7e57c2" text-anchor="start" textLength="29.5" lengthAdjust="spacingAndGlyphs">41.89</text>
<g fill="#131722"><path d="M10,834 H17.7 V843.7 H14.1 V837.8 H10 Z"/><circle cx="21" cy="836.1" r="1.95"/><path d="M25.4,834 H29.5 L25.8,843.7 H21.3 Z"/></g>
<text x="33" y="844" font-family='"Liberation Sans", sans-serif' font-size="13.5" fill="#363a45" textLength="70" lengthAdjust="spacingAndGlyphs">TradingView</text>
</svg></body></html>
